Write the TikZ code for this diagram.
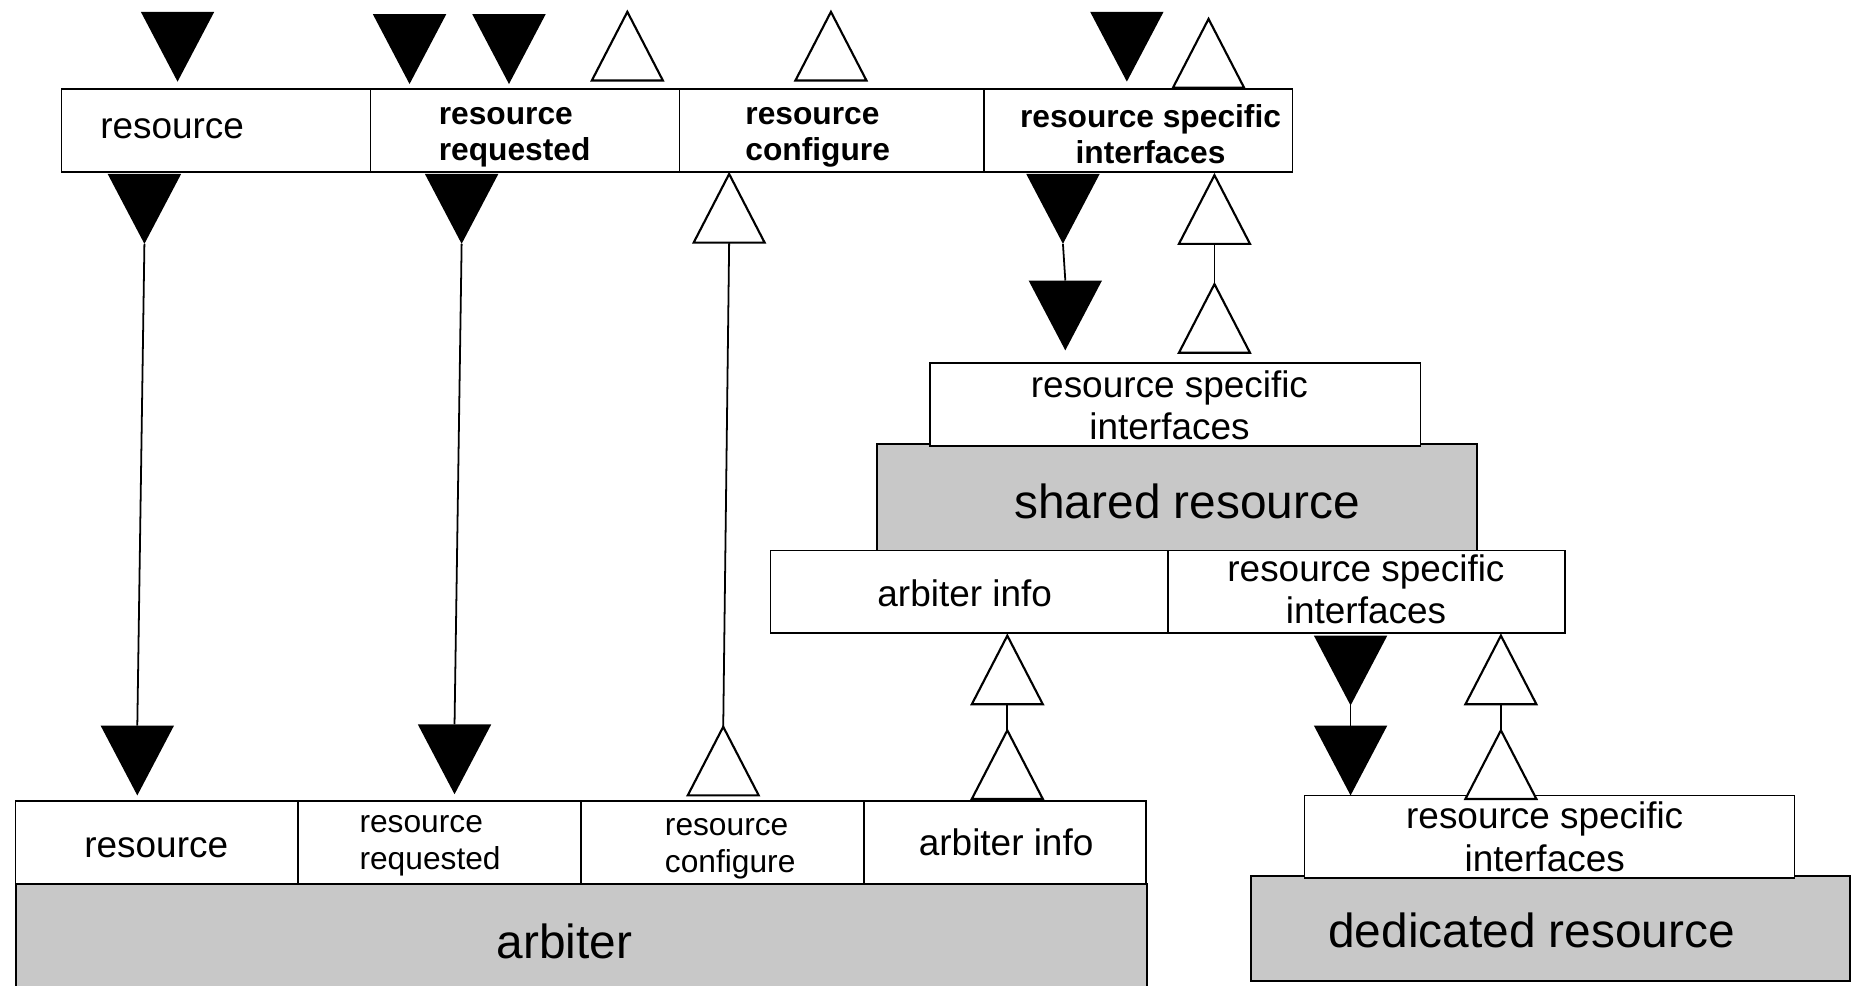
\documentclass[tikz,border=0pt]{standalone}
\usepackage{fontspec}
\setmainfont{Liberation Sans}
\definecolor{boxgray}{RGB}{200,200,200}
\begin{document}
\begin{tikzpicture}[x=0.5pt,y=-0.5pt, line width=0.75pt,
  cell/.style={draw, fill=white, inner sep=0pt, minimum height=35pt},
  base/.style={draw, fill=boxgray, inner sep=0pt},
  lbl/.style={inner sep=0pt, font=\fontsize{15.6}{18}\selectfont, align=center},
  blbl/.style={inner sep=0pt, font=\bfseries\fontsize{13.4}{15}\selectfont, align=left},
  bclbl/.style={inner sep=0pt, font=\bfseries\fontsize{13.4}{15}\selectfont, align=center},
  slbl/.style={inner sep=0pt, font=\fontsize{13.4}{15.5}\selectfont, align=left},
  big/.style={inner sep=0pt, font=\fontsize{20.2}{24}\selectfont},
  pics/fdown/.style={code={\fill[black] (-31,-59) -- (31,-59) -- (0,0) -- cycle;}},
  pics/oup/.style={code={\draw[fill=white, line width=0.9pt, line join=miter] (0,0) -- (-30,58) -- (30,58) -- cycle;}},
]
\clip (0,0) rectangle (1568,833);
\useasboundingbox (0,0) rectangle (1568,833);

% ---------- top bar ----------
\node[cell, minimum width=130.5pt] (t1) at (182.5,110) {};
\node[cell, minimum width=130.5pt] (t2) at (443.5,110) {};
\node[cell, minimum width=128.5pt] (t3) at (702.5,110) {};
\node[cell, minimum width=130.5pt] (t4) at (961.5,110) {};
\node[lbl, anchor=west] (t1l) at (84,109) {resource};
\node[blbl, anchor=west] (t2l) at (370,116) {resource\\requested};
\node[blbl, anchor=west] (t3l) at (629,116) {resource\\configure};
\node[bclbl] (t4l) at (972,113.5) {resource specific\\interfaces};

% triangles above top bar
\pic at (150,69) {fdown};
\pic at (346,71) {fdown};
\pic at (430,71) {fdown};
\pic at (530,10) {oup};
\pic at (702,10) {oup};
\pic at (952,69) {fdown};
\pic at (1021,16) {oup};

% ---------- shared resource ----------
\node[base, minimum width=253.5pt, minimum height=45pt] (sr) at (994.5,420) {};
\node[big] (srl) at (1003,424) {shared resource};
\node[cell, minimum width=207pt] (sri) at (993,342) {};
\node[lbl] (sril) at (988,342.5) {resource specific\\interfaces};
\node[cell, minimum width=168pt] (sa) at (819,500) {};
\node[cell, minimum width=167.5pt] (sb) at (1154.5,500) {};
\node[lbl] (sal) at (815,501) {arbiter info};
\node[lbl] (sbl) at (1154,498) {resource specific\\interfaces};

% ---------- arbiter ----------
\node[base, minimum width=477.5pt, minimum height=50pt, anchor=north west] (arb) at (13,746) {};
\node[big] (arbl) at (477,795) {arbiter};
\node[cell, minimum width=119.5pt] (a1) at (132.5,711.5) {};
\node[cell, minimum width=119.5pt] (a2) at (371.5,711.5) {};
\node[cell, minimum width=119.5pt] (a3) at (610.5,711.5) {};
\node[cell, minimum width=119pt] (a4) at (849,711.5) {};
\node[lbl] (a1l) at (132,716) {resource};
\node[slbl, anchor=west] (a2l) at (303,714.5) {resource\\requested};
\node[slbl, anchor=west] (a3l) at (561,717) {resource\\configure};
\node[lbl] (a4l) at (850,711.5) {arbiter info};

% ---------- dedicated resource ----------
\node[base, minimum width=253pt, minimum height=44.5pt] (dr) at (1310,784.5) {};
\node[big] (drl) at (1294,786) {dedicated resource};
\node[cell, minimum width=207pt] (dri) at (1309,707) {};
\node[lbl] (dril) at (1305,707) {resource specific\\interfaces};

% ---------- connectors ----------
% 1 resource
\coordinate (c1a) at (122,206); \coordinate (c1b) at (116,613);
\draw (c1a) -- (c1b);
\pic at (c1a) {fdown}; \pic at (116,672) {fdown};
% 2 resource requested
\coordinate (c2a) at (390,206); \coordinate (c2b) at (384,612);
\draw (c2a) -- (c2b);
\pic at (c2a) {fdown}; \pic at (384,671) {fdown};
% 3 resource configure
\coordinate (c3a) at (616,205); \coordinate (c3b) at (611,614);
\draw (c3a) -- (c3b);
\pic at (616,147) {oup}; \pic at (c3b) {oup};
% 4 rsi down to shared
\coordinate (c4a) at (898,206); \coordinate (c4b) at (900,237);
\draw (c4a) -- (c4b);
\pic at (c4a) {fdown}; \pic at (900,296) {fdown};
% 5 rsi up from shared
\coordinate (c5a) at (1026,206); \coordinate (c5b) at (1026,240);
\draw (c5a) -- (c5b);
\pic at (1026,148) {oup}; \pic at (c5b) {oup};
% 6 arbiter info
\coordinate (c6a) at (851,595); \coordinate (c6b) at (851,617);
\draw (c6a) -- (c6b);
\pic at (851,537) {oup}; \pic at (c6b) {oup};
% 7 rsi down to dedicated
\coordinate (c7a) at (1141,596); \coordinate (c7b) at (1141,613);
\draw (c7a) -- (c7b);
\pic at (c7a) {fdown}; \pic at (1141,672) {fdown};
% 8 rsi up from dedicated
\coordinate (c8a) at (1268,595); \coordinate (c8b) at (1268,617);
\draw (c8a) -- (c8b);
\pic at (1268,537) {oup}; \pic at (c8b) {oup};
\end{tikzpicture}
\end{document}
